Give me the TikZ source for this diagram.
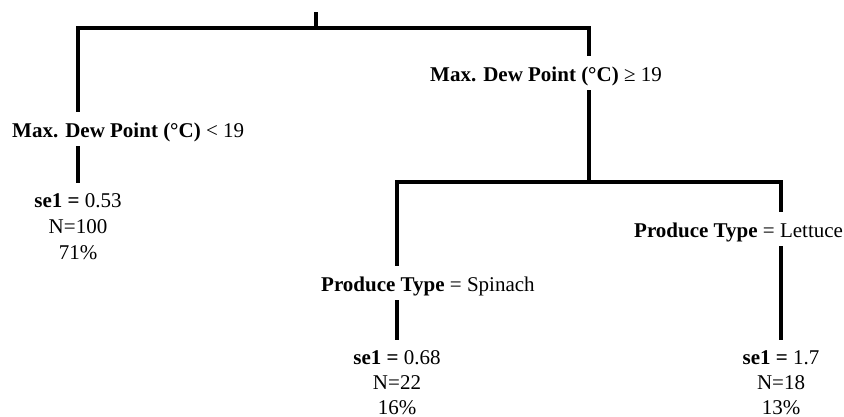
\documentclass[tikz,border=0pt]{standalone}
\usepackage{fontspec}
\setmainfont{Liberation Serif}
\usepackage{tikz}
\usetikzlibrary{positioning,calc}
\tikzset{
  splitbox/.style={anchor=base west,inner xsep=0pt,inner ysep=0pt,
    text height=25pt,text depth=9pt,font=\fontsize{21}{26}\selectfont},
  leafbox/.style={anchor=north,align=center,inner xsep=2pt,inner ysep=0pt,
    font=\fontsize{21}{26}\selectfont},
  branch/.style={draw=black,line width=4pt,line join=miter},
}
\newcommand{\leaftop}{\rule{0pt}{24pt}}

\begin{document}
\begin{tikzpicture}[x=1pt,y=-1pt]
  \useasboundingbox (0,0) rectangle (844,416);
  % junctions of the tree
  \coordinate (root) at (316,12);
  \coordinate (j1) at (316,28);
  \coordinate (j2) at (589,182);
  % split labels
  \node[splitbox] (dpl) at (12,137) {\textbf{Max. Dew Point (°C)} < 19};
  \node[splitbox] (dpr) at (430,81) {\textbf{Max. Dew Point (°C)} ≥ 19};
  \node[splitbox] (ptS) at (321,291) {\textbf{Produce Type} = Spinach};
  \node[splitbox] (ptL) at (634,237) {\textbf{Produce Type} = Lettuce};
  % leaves
  \node[leafbox] (leaf1) at (78,183) {\leaftop\textbf{se1 =} 0.53\\N=100\\71\%};
  \node[leafbox,font=\fontsize{21}{25}\selectfont] (leaf2) at (397,340) {\leaftop\textbf{se1 =} 0.68\\N=22\\16\%};
  \node[leafbox,font=\fontsize{21}{25}\selectfont] (leaf3) at (781,340) {\leaftop\textbf{se1 =} 1.7\\N=18\\13\%};
  % branches
  \draw[branch] (root) -- (j1);
  \draw[branch] (leaf1 |- dpl.north) |- (j1) -| (j2 |- dpr.north);
  \draw[branch] (dpl.south -| leaf1) -- (leaf1);
  \draw[branch] (dpr.south -| j2) -- (j2);
  \draw[branch] (leaf2 |- ptS.north) |- (j2) -| (leaf3 |- ptL.north);
  \draw[branch] (ptS.south -| leaf2) -- (leaf2);
  \draw[branch] (ptL.south -| leaf3) -- (leaf3);
\end{tikzpicture}
\end{document}
